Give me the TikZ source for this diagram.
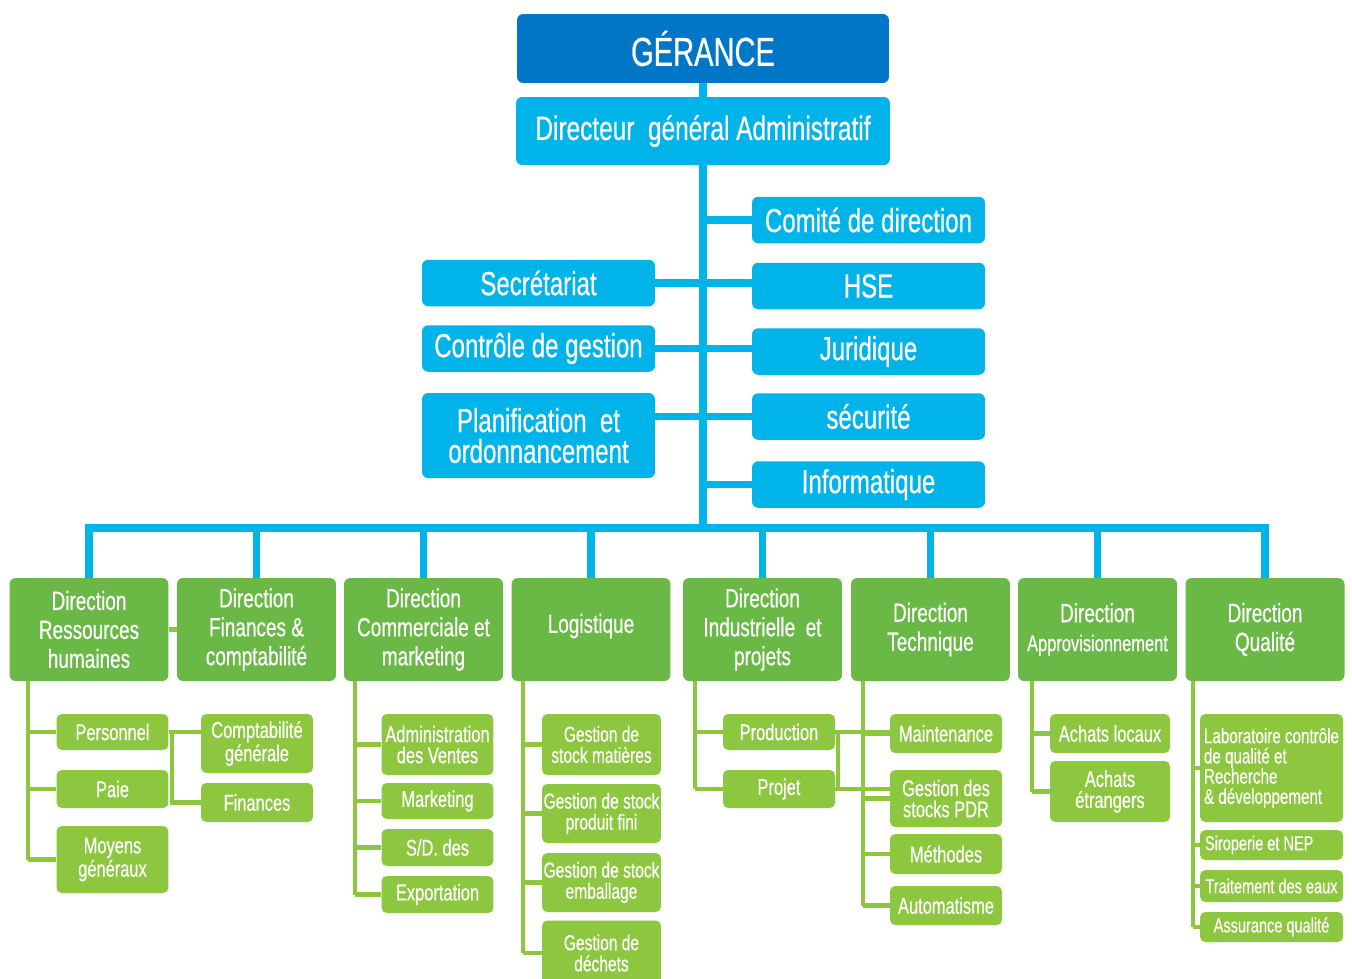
\documentclass[tikz,border=0pt]{standalone}
\usepackage{fontspec}
\setmainfont{Liberation Sans}[FakeStretch=0.72,FakeBold=0.5]
\usetikzlibrary{positioning}

\definecolor{gerblue}{RGB}{0,118,198}
\definecolor{orgblue}{RGB}{0,180,234}
\definecolor{dirgreen}{RGB}{106,184,70}
\definecolor{subgreen}{RGB}{141,198,63}

\begin{document}
\begin{tikzpicture}[x=0.02cm,y=-0.02cm,
    blk/.style={rounded corners=3.5pt, inner sep=0pt, align=center, text=white},
    gerbox/.style={blk, fill=gerblue, minimum width=7.44cm, minimum height=1.38cm,
      font=\fontsize{23}{25}\selectfont},
    dgabox/.style={blk, fill=orgblue, minimum width=7.48cm, minimum height=1.36cm,
      font=\fontsize{19.3}{21}\selectfont},
    sidebox/.style={blk, fill=orgblue, minimum width=4.66cm, minimum height=0.93cm,
      font=\fontsize{19}{17.5}\selectfont},
    dirbox/.style={blk, fill=dirgreen, minimum width=3.18cm, minimum height=2.06cm,
      font=\fontsize{15}{16.5}\selectfont},
    subbox/.style={blk, rounded corners=3pt, fill=subgreen, minimum width=2.24cm,
      font=\fontsize{13}{12}\selectfont},
    logbox/.style={subbox, minimum width=2.38cm, font=\fontsize{12.3}{12}\selectfont},
    bline/.style={draw=orgblue, line width=4.5pt},
    gline/.style={draw=subgreen, line width=2.8pt}]

  \clip (0,0) rectangle (1352,978);
  \fill[white] (0,0) rectangle (1352,978);

  % direction generale
  \node[gerbox] (ger) at (703,48.5) {GÉRANCE};
  \node[dgabox] (dga) at (703,131) {Directeur\ \ général Administratif};
  \coordinate (bus) at (703,528);

  \node[sidebox] (comite) at (868.5,220) {Comité de direction};
  \node[sidebox] (hse) at (868.5,286) {HSE};
  \node[sidebox] (jur) at (868.5,351.5) {Juridique};
  \node[sidebox] (secu) at (868.5,416.5) {sécurité};
  \node[sidebox] (info) at (868.5,484.5) {Informatique};
  \node[sidebox] (secr) at (538.5,283) {Secrétariat};
  \node[sidebox] (cdg) at (538.5,348.5) {Contrôle de gestion};
  \node[sidebox, minimum height=1.7cm] (plan) at (538.5,435.5)
    {Planification\ \ et\\ordonnancement};

  \draw[bline] (ger) -- (dga);
  \draw[bline] (dga) -- (bus);
  \draw[bline] (bus |- comite) -- (comite);
  \draw[bline] (bus |- info) -- (info);
  \draw[bline] (secr.east) -- (secr.east -| hse.west);
  \draw[bline] (cdg.east) -- (cdg.east -| jur.west);
  \draw[bline] (plan.east |- secu) -- (secu.west);

  % directions
  \node[dirbox] (drh) at (89,629.5) {Direction\\Ressources\\humaines};
  \node[dirbox] (dfc) at (256.5,629.5) {Direction\\Finances \&\\comptabilité};
  \node[dirbox] (dcm) at (423.5,629.5) {Direction\\Commerciale et\\marketing};
  \node[dirbox] (log) at (591,629.5) {\raisebox{7pt}{Logistique}};
  \node[dirbox] (dip) at (762.5,629.5) {Direction\\Industrielle\ \ et\\projets};
  \node[dirbox] (dt) at (930.5,629.5) {Direction\\Technique};
  \node[dirbox] (da) at (1097.5,629.5)
    {Direction\\{\fontsize{13}{15}\selectfont Approvisionnement}};
  \node[dirbox] (dq) at (1265,629.5) {Direction\\Qualité};

  \draw[bline] (drh.north) |- (dq.north |- bus) -- (dq.north);
  \foreach \d in {dfc,dcm,log,dip,dt,da}
    \draw[bline] (\d.north |- bus) -- (\d.north);
  \draw[gline] (drh) -- (dfc);

  % services
  \node[subbox, minimum height=0.72cm] (pers) at (112.5,732) {Personnel};
  \node[subbox, minimum height=0.76cm] (paie) at (112.5,789) {Paie};
  \node[subbox, minimum height=1.34cm] (moy) at (112.5,859.5) {Moyens\\généraux};
  \node[subbox, minimum height=1.18cm] (compta) at (257,743.5) {Comptabilité\\générale};
  \node[subbox, minimum height=0.78cm] (fin) at (257,802.5) {Finances};

  \node[subbox, minimum height=1.22cm] (adv) at (437.5,744.5) {Administration\\des Ventes};
  \node[subbox, minimum height=0.72cm] (mkt) at (437.5,801) {Marketing};
  \node[subbox, minimum height=0.74cm] (sdd) at (437.5,847.5) {S/D. des};
  \node[subbox, minimum height=0.74cm] (expo) at (437.5,894.5) {Exportation};

  \node[logbox, minimum height=1.22cm] (gsm) at (601.5,744.5)
    {Gestion de\\stock matières};
  \node[logbox, minimum height=1.18cm] (gspf) at (601.5,813.5)
    {Gestion de stock\\produit fini};
  \node[logbox, minimum height=1.18cm] (gse) at (601.5,882.5)
    {Gestion de stock\\emballage};
  \node[logbox, minimum height=1.3cm] (gdd) at (601.5,953)
    {Gestion de\\déchets};

  \node[subbox, minimum height=0.72cm] (prod) at (779,732) {Production};
  \node[subbox, minimum height=0.76cm] (proj) at (779,789) {Projet};

  \node[subbox, minimum height=0.78cm] (maint) at (946,733.5) {Maintenance};
  \node[subbox, minimum height=1.14cm] (gpdr) at (946,798.5) {Gestion des\\stocks PDR};
  \node[subbox, minimum height=0.8cm] (meth) at (946,854) {Méthodes};
  \node[subbox, minimum height=0.78cm] (auto) at (946,905.5) {Automatisme};

  \node[subbox, minimum width=2.4cm, minimum height=0.78cm] (achl) at (1110,733.5)
    {Achats locaux};
  \node[subbox, minimum width=2.4cm, minimum height=1.22cm] (ache) at (1110,791.5)
    {Achats\\étrangers};

  \node[subbox, minimum width=2.86cm, minimum height=2.16cm, align=left,
    font=\fontsize{12}{11.5}\selectfont] (lab) at (1271.5,768)
    {Laboratoire contrôle\\de qualité et\\Recherche\\\&~développement};
  \node[subbox, minimum width=2.86cm, minimum height=0.6cm,
    font=\fontsize{11.5}{12}\selectfont] (sir) at (1271.5,845) {Siroperie et NEP\hspace{14pt}};
  \node[subbox, minimum width=2.86cm, minimum height=0.64cm,
    font=\fontsize{11.5}{12}\selectfont] (trt) at (1271.5,886) {Traitement des eaux};
  \node[subbox, minimum width=2.86cm, minimum height=0.6cm,
    font=\fontsize{11.5}{12}\selectfont] (aq) at (1271.5,927) {Assurance qualité};

  % liaisons des services
  \coordinate (drhs) at (28,681);
  \coordinate (dcms) at (355,681);
  \coordinate (logs) at (523,681);
  \coordinate (dips) at (695,681);
  \coordinate (dts) at (863,681);
  \coordinate (das) at (1032,681);
  \coordinate (dqs) at (1193,681);

  \draw[gline] (drhs) -- (drhs |- moy);
  \foreach \s in {pers,paie,moy} \draw[gline] (drhs |- \s) -- (\s.west);
  \draw[gline] (pers.east) -- (pers.east -| compta.west);
  \coordinate (dfcs) at (172,732);
  \draw[gline] (dfcs) |- (fin.west);

  \draw[gline] (dcms) -- (dcms |- expo);
  \foreach \s in {adv,mkt,sdd,expo} \draw[gline] (dcms |- \s) -- (\s.west);

  \draw[gline] (logs) -- (logs |- gdd);
  \foreach \s in {gsm,gspf,gse,gdd} \draw[gline] (logs |- \s) -- (\s.west);

  \draw[gline] (dips) -- (dips |- proj);
  \foreach \s in {prod,proj} \draw[gline] (dips |- \s) -- (\s.west);
  \draw[gline] (prod.east) -- (prod.east -| maint.west);
  \draw[gline] (proj.east) -- (proj.east -| gpdr.west);
  \coordinate (dipx) at (838,732);
  \draw[gline] (dipx) -- (dipx |- proj);

  \draw[gline] (dts) -- (dts |- auto);
  \foreach \s in {maint,gpdr,meth,auto} \draw[gline] (dts |- \s) -- (\s.west);

  \draw[gline] (das) -- (das |- ache);
  \foreach \s in {achl,ache} \draw[gline] (das |- \s) -- (\s.west);

  \draw[gline] (dqs) -- (dqs |- aq);
  \foreach \s in {lab,sir,trt,aq} \draw[gline] (dqs |- \s) -- (\s.west);
\end{tikzpicture}
\end{document}
